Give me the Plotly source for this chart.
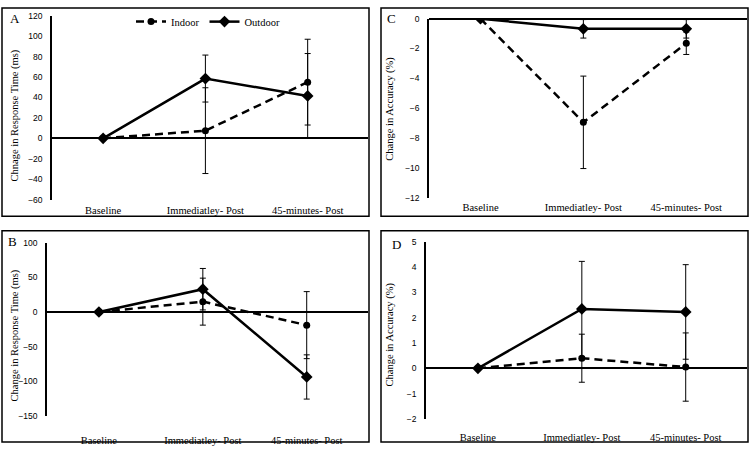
import plotly.graph_objects as go

W, H = 751, 450

categories = ["Baseline", "Immediatley- Post", "45-minutes- Post"]

# Panel A: change in response time (ms)
a_indoor = [0, 7.5, 55]
a_indoor_err = [0, 42, 42]
a_outdoor = [0, 58.5, 41.5]
a_outdoor_err = [0, 23, 41.5]

# Panel B: change in response time (ms)
b_indoor = [0, 15, -19]
b_indoor_err = [0, 34, 48.5]
b_outdoor = [0, 33, -94]
b_outdoor_err = [0, 30, 32]

# Panel C: change in accuracy (%)
c_indoor = [0, -6.95, -1.65]
c_indoor_err = [0, 3.1, 0.75]
c_outdoor = [0, -0.68, -0.68]
c_outdoor_err = [0, 0.62, 0.62]

# Panel D: change in accuracy (%)
d_indoor = [0, 0.4, 0.05]
d_indoor_err = [0, 0.95, 1.35]
d_outdoor = [0, 2.35, 2.23]
d_outdoor_err = [0, 1.88, 1.87]

series_names = ["Indoor", "Outdoor"]

def fx(px):
    return px / W

def fy(py):
    return 1 - py / H

SERIF = "Liberation Serif, Times New Roman, serif"
SANS = "Liberation Sans, Arial, sans-serif"

panels = [
    dict(ax="", ind=a_indoor, inde=a_indoor_err, out=a_outdoor, oute=a_outdoor_err,
         xd=(52, 368), yd=(11, 199), yr=[-60, 120], dt=20,
         title="Chnage in Response Time (ms)", tpos=(15, 113), letter="A", lpos=(15, 14), tl=1),
    dict(ax="2", ind=b_indoor, inde=b_indoor_err, out=b_outdoor, oute=b_outdoor_err,
         xd=(47, 368), yd=(243.3, 420), yr=[-150, 100], dt=50,
         title="Change in Response Time (ms)", tpos=(15, 338), letter="B", lpos=(13, 242), tl=15),
    dict(ax="3", ind=c_indoor, inde=c_indoor_err, out=c_outdoor, oute=c_outdoor_err,
         xd=(429, 747), yd=(14, 197), yr=[-12, 0], dt=2,
         title="Change in Accuracy (%)", tpos=(390, 106), letter="C", lpos=(391, 14), tl=0),
    dict(ax="4", ind=d_indoor, inde=d_indoor_err, out=d_outdoor, oute=d_outdoor_err,
         xd=(426, 747), yd=(242.3, 423.3), yr=[-2, 5], dt=1,
         title="Change in Accuracy (%)", tpos=(390, 337), letter="D", lpos=(396, 245), tl=9),
]

fig = go.Figure()
layout = dict(
    width=W, height=H,
    margin=dict(l=0, r=0, t=0, b=0),
    paper_bgcolor="white", plot_bgcolor="white",
    showlegend=True,
    legend=dict(orientation="h", x=fx(208), y=fy(17), xanchor="center", yanchor="middle",
                font=dict(family=SERIF, size=10.5, color="black"), itemwidth=30,
                bgcolor="rgba(0,0,0,0)", tracegroupgap=0),
)
shapes = []
annotations = []

boxes = [(2, 3, 369, 216), (381, 3, 748, 216), (2, 231, 369, 447), (381, 231, 748, 447)]
for x0, y0, x1, y1 in boxes:
    shapes.append(dict(type="rect", xref="paper", yref="paper",
                       x0=fx(x0), x1=fx(x1), y0=fy(y1), y1=fy(y0),
                       line=dict(color="black", width=1.5), fillcolor="rgba(0,0,0,0)", layer="above"))

for i, p in enumerate(panels):
    ax = p["ax"]
    xa = "x" + ax
    ya = "y" + ax
    err_style = dict(type="data", visible=True, color="black", thickness=1, width=3)
    fig.add_trace(go.Scatter(
        x=categories, y=p["ind"], name=series_names[0], xaxis=xa, yaxis=ya,
        mode="lines+markers", showlegend=(i == 0), legendgroup="in",
        line=dict(color="black", width=2.5, dash="8px,5px"),
        marker=dict(symbol="circle", size=7, color="black"),
        error_y=dict(array=p["inde"], **err_style)))
    fig.add_trace(go.Scatter(
        x=categories, y=p["out"], name=series_names[1], xaxis=xa, yaxis=ya,
        mode="lines+markers", showlegend=(i == 0), legendgroup="out",
        line=dict(color="black", width=2.5),
        marker=dict(symbol="diamond", size=9, color="black"),
        error_y=dict(array=p["oute"], **err_style)))

    layout["xaxis" + ax] = dict(
        domain=[fx(p["xd"][0]), fx(p["xd"][1])], anchor=ya, type="category",
        range=[-0.5, 2.59], showline=False, showgrid=False, zeroline=False,
        ticks="outside", ticklen=p["tl"], tickcolor="rgba(0,0,0,0)",
        tickfont=dict(family=SERIF, size=10.5, color="black"), fixedrange=True)
    layout["yaxis" + ax] = dict(
        domain=[fy(p["yd"][1]), fy(p["yd"][0])], anchor=xa, range=p["yr"], dtick=p["dt"],
        showline=True, linecolor="black", linewidth=1.5, showgrid=False,
        zeroline=True, zerolinecolor="black", zerolinewidth=1.5,
        ticks="outside", ticklen=6, tickcolor="rgba(0,0,0,0)",
        tickfont=dict(family=SANS, size=8.5, color="black"), fixedrange=True)

    annotations.append(dict(text=p["title"], textangle=-90, xref="paper", yref="paper",
                            x=fx(p["tpos"][0]), y=fy(p["tpos"][1]), xanchor="center", yanchor="middle",
                            showarrow=False, font=dict(family=SERIF, size=10.5, color="black")))
    annotations.append(dict(text=p["letter"], xref="paper", yref="paper",
                            x=fx(p["lpos"][0]), y=fy(p["lpos"][1]), xanchor="center", yanchor="middle",
                            showarrow=False, font=dict(family=SERIF, size=13, color="black")))

layout["shapes"] = shapes
layout["annotations"] = annotations
fig.update_layout(**layout)
fig.write_html("out.html", config={"displayModeBar": False},
               post_script="document.body.style.margin='0';document.body.style.overflow='hidden';")
